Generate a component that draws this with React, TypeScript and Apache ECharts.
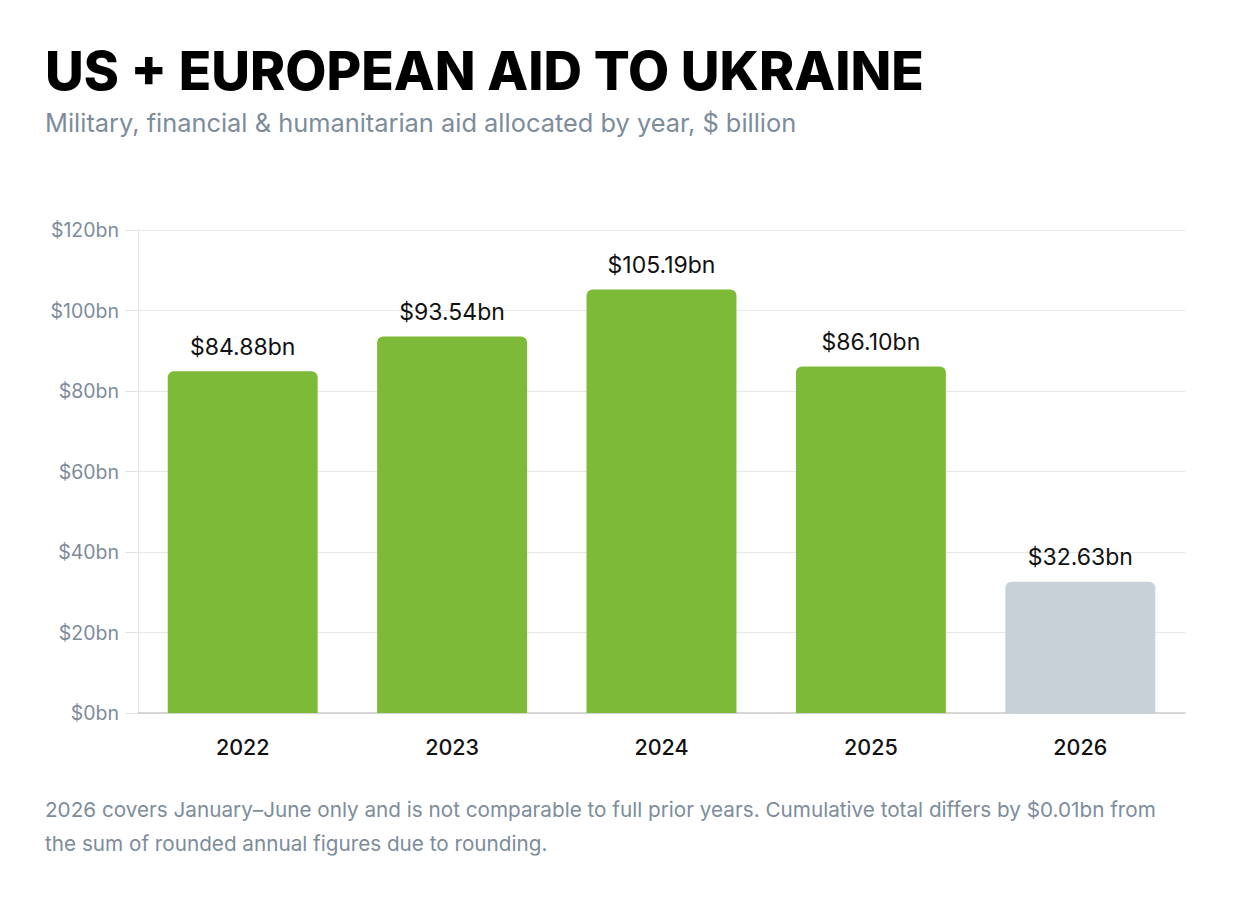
import React, { useEffect, useRef } from "react";
import * as echarts from "echarts";

const years = ["2022", "2023", "2024", "2025", "2026"];
const aidValues = [84.88, 93.54, 105.19, 86.1, 32.63];
const partialYears = ["2026"];
const yTicks = [0, 20, 40, 60, 80, 100, 120];

const titleText = "US + EUROPEAN AID TO UKRAINE";
const subtitleText = "Military, financial & humanitarian aid allocated by year, $ billion";
const noteLines = [
  "2026 covers January–June only and is not comparable to full prior years. Cumulative total differs by $0.01bn from",
  "the sum of rounded annual figures due to rounding.",
];

const GREEN = "#7DBA37";
const GREY_BAR = "#C9D1D8";
const MUTED = "#7D8C9B";
const FONT = "Inter, 'Noto Sans', sans-serif";

export default function App() {
  const ref = useRef<HTMLDivElement>(null);
  useEffect(() => {
    document.body.style.margin = "0";
    const chart = echarts.init(ref.current!, null, { renderer: "svg" });
    chart.setOption({
      animation: false,
      backgroundColor: "#ffffff",
      textStyle: { fontFamily: FONT },
      grid: { left: 138, right: 55, top: 230, bottom: 187 },
      xAxis: {
        type: "category",
        data: years,
        axisLine: { show: true, lineStyle: { color: "#CCCCCC", width: 1.5 } },
        axisTick: { show: false },
        axisLabel: { color: "#111111", fontSize: 21.5, fontWeight: 500, margin: 23, fontFamily: FONT },
      },
      yAxis: {
        type: "value",
        min: yTicks[0],
        max: yTicks[yTicks.length - 1],
        interval: 20,
        axisLine: { show: true, lineStyle: { color: "#E3E3E3", width: 1 } },
        axisTick: { show: true, length: 13, lineStyle: { color: "#E3E3E3" } },
        splitLine: { show: true, lineStyle: { color: "#E6E6E6", width: 1 } },
        axisLabel: {
          color: MUTED,
          fontSize: 19.5,
          margin: 19,
          fontFamily: FONT,
          formatter: (v: number) => "$" + v + "bn",
        },
      },
      series: [
        {
          type: "bar",
          barWidth: "71.6%",
          data: aidValues.map((v, i) => ({
            value: v,
            itemStyle: {
              color: partialYears.includes(years[i]) ? GREY_BAR : GREEN,
              borderRadius: [6, 6, 0, 0],
            },
          })),
          label: {
            show: true,
            position: "top",
            distance: 13,
            color: "#111111",
            fontSize: 23,
            fontFamily: FONT,
            formatter: (p: any) => "$" + Number(p.value).toFixed(2) + "bn",
          },
        },
      ],
      graphic: [
        {
          type: "text",
          left: 45,
          top: 44,
          style: { text: titleText, fill: "#000000", font: `800 53.3px ${FONT}` },
        },
        {
          type: "text",
          left: 45,
          top: 110,
          style: { text: subtitleText, fill: MUTED, font: `400 25.4px ${FONT}` },
        },
        {
          type: "text",
          left: 45,
          top: 799,
          style: { text: noteLines[0], fill: MUTED, font: `400 20.7px ${FONT}` },
        },
        {
          type: "text",
          left: 45,
          top: 833,
          style: { text: noteLines[1], fill: MUTED, font: `400 20.7px ${FONT}` },
        },
      ],
    });
    return () => chart.dispose();
  }, []);
  return <div ref={ref} style={{ width: 1240, height: 900 }} />;
}
